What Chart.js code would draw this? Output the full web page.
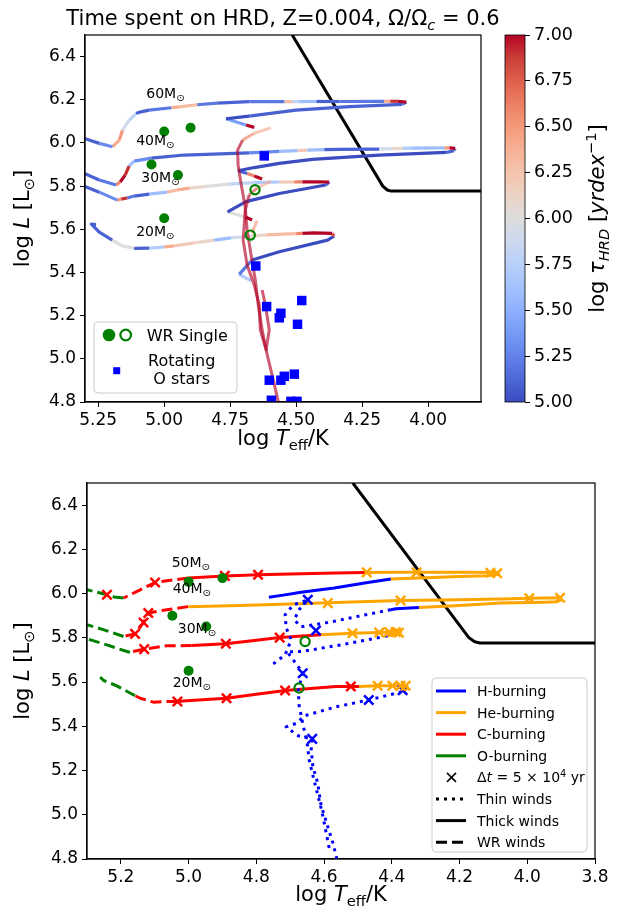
<!DOCTYPE html>
<html lang="en">
<head>
<meta charset="UTF-8">
<title>Time spent on HRD</title>
<style>
  body { margin: 0; background: #fff; }
  #wrap { position: relative; width: 629px; height: 918px; }
  #wrap canvas { position: absolute; left: 0; top: 0; }
</style>
</head>
<body>
<div id="wrap">
  <canvas id="topChart" width="629" height="918"></canvas>
  <canvas id="cbar" width="629" height="918"></canvas>
  <canvas id="botChart" width="629" height="918"></canvas>
</div>
<script src="https://cdn.jsdelivr.net/npm/chart.js"></script>
<script>
const FF = '"DejaVu Sans", sans-serif';
Chart.defaults.font.family = FF;
Chart.defaults.color = '#000';

// ticks
const xTicksTop = [5.25, 5.0, 4.75, 4.5, 4.25, 4.0];
const xTicksBot = [5.2, 5.0, 4.8, 4.6, 4.4, 4.2, 4.0, 3.8];
const yTicks = [4.8, 5.0, 5.2, 5.4, 5.6, 5.8, 6.0, 6.2, 6.4];
const cbTicks = [5.0, 5.25, 5.5, 5.75, 6.0, 6.25, 6.5, 6.75, 7.0];

// top panel tracks: [log Teff, log L, log tau_HRD]
const trk60 = [
  [4.659,6.072,7.0],[4.690,6.083,5.4],[4.766,6.112,5.0],[4.678,6.124,5.1],[4.501,6.152,5.1],
  [4.299,6.168,5.1],[4.098,6.179,5.2],[4.083,6.189,7.0],[4.117,6.193,6.9],[4.144,6.193,6.4],
  [4.167,6.193,5.2],[4.337,6.192,5.1],[4.424,6.192,5.6],[4.489,6.191,5.8],[4.515,6.191,6.3],
  [4.545,6.191,5.2],[4.678,6.191,5.1],[4.799,6.184,5.2],[4.875,6.177,6.3],[4.943,6.167,6.4],
  [4.973,6.163,5.2],[5.057,6.152,5.1],[5.088,6.144,5.1],[5.107,6.136,5.8],[5.133,6.105,5.9],
  [5.158,6.059,6.5],[5.170,6.013,6.4],[5.196,5.982,5.3],[5.246,5.998,5.1],[5.303,6.021,5.1]
];
const trk40 = [
  [4.629,5.833,7.0],[4.659,5.847,6.6],[4.686,5.858,5.1],[4.720,5.871,5.0],[4.659,5.886,5.0],
  [4.564,5.905,5.0],[4.439,5.924,5.0],[4.186,5.944,5.0],[3.932,5.956,5.1],[3.902,5.964,5.2],
  [3.898,5.975,7.0],[3.920,5.977,6.5],[3.939,5.977,5.6],[4.061,5.976,5.7],[4.098,5.975,6.1],
  [4.136,5.974,5.9],[4.186,5.971,5.1],[4.337,5.970,5.1],[4.394,5.969,5.6],[4.458,5.967,6.2],
  [4.496,5.964,5.6],[4.564,5.961,5.3],[4.678,5.954,5.1],[4.924,5.944,5.1],[5.049,5.930,5.3],
  [5.114,5.916,5.6],[5.133,5.893,6.9],[5.148,5.851,7.0],[5.167,5.819,6.6],[5.182,5.805,5.2],
  [5.246,5.828,5.1],[5.303,5.859,5.1]
];
const trk30 = [
  [4.667,5.643,7.0],[4.693,5.657,6.0],[4.760,5.681,5.0],[4.690,5.728,5.0],[4.564,5.766,5.0],
  [4.388,5.805,5.1],[4.375,5.819,7.0],[4.420,5.820,7.0],[4.477,5.820,6.6],[4.508,5.819,6.2],
  [4.564,5.819,5.7],[4.659,5.816,5.8],[4.754,5.809,6.0],[4.848,5.798,6.1],[4.905,5.791,6.4],
  [4.951,5.782,6.3],[4.989,5.772,5.6],[5.057,5.763,5.1],[5.114,5.754,5.2],[5.140,5.745,6.9],
  [5.163,5.740,6.5],[5.178,5.735,5.3],[5.246,5.772,5.1],[5.303,5.800,5.1]
];
const trk20 = [
  [4.670,5.361,5.7],[4.716,5.391,5.2],[4.667,5.458,5.0],[4.564,5.496,5.0],[4.381,5.550,5.0],
  [4.356,5.569,6.8],[4.364,5.581,7.0],[4.432,5.583,7.0],[4.477,5.581,6.6],[4.500,5.580,6.3],
  [4.614,5.574,6.1],[4.678,5.567,5.9],[4.746,5.560,5.6],[4.811,5.550,6.1],[4.886,5.537,6.2],
  [4.962,5.523,6.4],[5.000,5.518,5.7],[5.057,5.513,5.1],[5.114,5.512,6.0],[5.159,5.523,6.0],
  [5.197,5.550,5.1],[5.246,5.587,5.1],[5.276,5.624,5.1],[5.258,5.622,5.1]
];
// faint red tracks
const redA = [
  [4.596,6.070,6.4],[4.659,6.045,6.6],[4.703,6.013,7],[4.722,5.967,7],[4.720,5.897,7],
  [4.708,5.805,7],[4.693,5.703,7],[4.686,5.597,7],[4.671,5.481,7],[4.655,5.366,7],
  [4.644,5.250,7],[4.629,5.134,7],[4.610,5.019,7],[4.587,4.904,7],[4.568,4.802,7]
];
const redB = [
  [4.596,5.823,6.4],[4.648,5.791,6.8],[4.678,5.759,7],[4.693,5.689,7],[4.701,5.550,7],
  [4.686,5.435,7],[4.659,5.342,7],[4.640,5.250,7],[4.636,5.134,7],[4.614,5.042,7],
  [4.602,5.134,7],[4.617,5.250,7],[4.629,5.319,7]
];
const redC = [[4.648,5.640,6.5],[4.660,5.605,6.6],[4.667,5.582,6.8]];

// thick-wind boundary
const bndT = [4.515, 4.172, 4.155, 4.14, 3.8];
const bndL = [6.5, 5.80, 5.782, 5.777, 5.777];

// observed stars
const wrT = [5.0, 4.9, 5.048, 4.948, 5.0];
const wrL = [6.053, 6.070, 5.900, 5.851, 5.651];
const wrOpenT = [4.656, 4.674];
const wrOpenL = [5.783, 5.573];
const ostT = [4.621,4.653,4.612,4.558,4.564,4.479,4.495,4.602,4.558,4.545,4.507,4.594,4.520,4.497];
const ostL = [5.940,5.430,5.242,5.211,5.190,5.270,5.160,4.901,4.901,4.919,4.929,4.808,4.803,4.803];

// mass labels
const massTop = ['60', '40', '30', '20'];
const massTopT = [5.068, 5.106, 5.087, 5.106];
const massTopL = [6.230, 6.013, 5.842, 5.592];
const massBot = ['50', '40', '30', '20'];
const massBotT = [5.050, 5.047, 5.032, 5.047];
const massBotL = [6.144, 6.026, 5.845, 5.601];

// bottom panel: burning phases [log Teff, log L]
const b50H  = [[4.763,5.983],[4.72,5.993],[4.668,6.006],[4.57,6.025],[4.471,6.050],[4.403,6.066]];
const b50He = [[4.403,6.066],[4.30,6.072],[4.20,6.077],[4.12,6.081],[4.09,6.085],[4.085,6.090],[4.09,6.095],[4.15,6.097],[4.30,6.097],[4.40,6.096],[4.476,6.095]];
const b50C  = [[4.476,6.095],[4.565,6.093],[4.70,6.089],[4.795,6.085],[4.893,6.080],[5.001,6.070]];
const b50Cw = [[5.001,6.070],[5.045,6.062],[5.099,6.050],[5.143,6.017],[5.192,5.980]];
const b50Ow = [[5.192,5.980],[5.22,5.985],[5.241,5.995],[5.27,6.006],[5.30,6.017]];

const b40Hd = [[4.750,5.682],[4.715,5.723],[4.697,5.791],[4.712,5.845],[4.715,5.904],[4.691,5.949],[4.648,5.972],[4.674,5.927],[4.688,5.881],[4.668,5.850],[4.579,5.872],[4.491,5.900],[4.403,5.927]];
const b40H  = [[4.403,5.927],[4.388,5.931],[4.320,5.937]];
const b40He = [[4.320,5.937],[4.20,5.946],[4.079,5.957],[3.95,5.961],[3.912,5.963],[3.900,5.972],[3.903,5.981],[3.994,5.979],[4.079,5.975],[4.20,5.972],[4.374,5.969],[4.565,5.960],[4.70,5.953],[4.85,5.946],[5.001,5.941]];
const b40Cw = [[5.001,5.941],[5.065,5.927],[5.119,5.912],[5.133,5.869],[5.158,5.818],[5.192,5.806]];
const b40Ow = [[5.192,5.806],[5.207,5.814],[5.25,5.836],[5.30,5.859]];

const b30Hd = [[4.585,4.850],[4.606,5.013],[4.632,5.171],[4.644,5.248],[4.650,5.325],[4.662,5.406],[4.674,5.497],[4.676,5.565],[4.663,5.642],[4.691,5.700],[4.709,5.737],[4.668,5.738],[4.550,5.768],[4.412,5.809]];
const b30He = [[4.412,5.809],[4.379,5.822],[4.374,5.826],[4.40,5.826],[4.437,5.824],[4.516,5.821],[4.609,5.814]];
const b30C  = [[4.609,5.814],[4.653,5.809],[4.731,5.801],[4.80,5.789],[4.890,5.773],[4.991,5.765]];
const b30Cw = [[4.991,5.765],[5.065,5.764],[5.131,5.749],[5.173,5.735]];
const b30Ow = [[5.173,5.735],[5.182,5.738],[5.241,5.768],[5.300,5.796]];

const b20Hd = [[4.562,4.800],[4.574,4.872],[4.589,4.946],[4.609,5.044],[4.619,5.144],[4.633,5.218],[4.638,5.293],[4.635,5.343],[4.676,5.357],[4.712,5.397],[4.679,5.415],[4.659,5.447],[4.565,5.488],[4.468,5.519],[4.365,5.558]];
const b20He = [[4.365,5.558],[4.354,5.575],[4.359,5.583],[4.398,5.583],[4.442,5.583],[4.497,5.580]];
const b20C  = [[4.497,5.580],[4.565,5.580],[4.715,5.562],[4.80,5.545],[4.888,5.527],[5.006,5.515],[5.033,5.512]];
const b20Cw = [[5.033,5.512],[5.065,5.512],[5.104,5.509],[5.143,5.527],[5.158,5.538]];
const b20Ow = [[5.158,5.538],[5.212,5.583],[5.251,5.607],[5.261,5.622]];

// time markers (every 5e4 yr)
const xmBlue = [[4.648,5.972],[4.624,5.833],[4.663,5.640],[4.635,5.343],[4.468,5.519],[4.368,5.563]];
const xmOrange = [[4.474,6.096],[4.327,6.096],[4.109,6.094],[4.089,6.092],[4.589,5.957],[4.374,5.969],[3.994,5.979],[3.903,5.981],
  [4.516,5.821],[4.437,5.824],[4.408,5.826],[4.388,5.826],[4.379,5.823],[4.442,5.583],[4.398,5.583],[4.374,5.583],[4.359,5.583]];
const xmRed = [[5.241,5.995],[5.099,6.050],[4.893,6.080],[4.795,6.085],[5.119,5.912],[5.133,5.869],[5.158,5.818],
  [5.131,5.749],[4.890,5.773],[4.731,5.801],[5.033,5.512],[4.888,5.527],[4.715,5.562],[4.521,5.580]];

const legendBot = ['H-burning', 'He-burning', 'C-burning', 'O-burning', 'dt', 'Thin winds', 'Thick winds', 'WR winds'];

// colours
const BLUE = '#0000ff', ORANGE = '#ffa500', RED = '#ff0000', GREEN = '#008000';
const DOT = [3, 5], DASH = [11, 5];
const CW = [[59,76,192],[77,104,215],[98,130,234],[119,154,247],[141,176,254],[163,194,255],[184,208,249],
  [204,217,238],[221,221,221],[236,211,197],[245,196,173],[247,177,148],[244,154,123],[236,127,99],
  [222,96,77],[203,62,56],[180,4,38]];
function coolwarm(v, a) {
  let t = Math.max(0, Math.min(1, (v - 5) / 2));
  const f = t * (CW.length - 1), i = Math.min(Math.floor(f), CW.length - 2), r = f - i;
  const c = CW[i].map((c0, k) => Math.round(c0 + (CW[i + 1][k] - c0) * r));
  return 'rgba(' + c[0] + ',' + c[1] + ',' + c[2] + ',' + (a == null ? 1 : a) + ')';
}

// rich text helper (sub/superscripts, italics)
function fontFor(p, size) {
  return (p.i ? 'italic ' : '') + (p.s ? size * 0.7 : size) + 'px ' + FF;
}
function drawRich(ctx, parts, x, y, size, align) {
  ctx.save();
  let w = 0;
  const ws = parts.map(p => { ctx.font = fontFor(p, size); const m = ctx.measureText(p.t).width; w += m; return m; });
  let cx = align === 'center' ? x - w / 2 : align === 'right' ? x - w : x;
  ctx.textAlign = 'left';
  ctx.textBaseline = 'alphabetic';
  ctx.fillStyle = '#000';
  parts.forEach((p, k) => {
    ctx.font = fontFor(p, size);
    const dy = p.s === -1 ? size * 0.22 : p.s === 1 ? -size * 0.4 : 0;
    ctx.fillText(p.t, cx, y + dy);
    cx += ws[k];
  });
  ctx.restore();
}
function drawRotated(ctx, parts, x, y, size) {
  ctx.save();
  ctx.translate(x, y);
  ctx.rotate(-Math.PI / 2);
  drawRich(ctx, parts, 0, 0, size, 'center');
  ctx.restore();
}
function boxPath(ctx, x, y, w, h, r) {
  ctx.beginPath();
  ctx.moveTo(x + r, y);
  ctx.lineTo(x + w - r, y); ctx.arcTo(x + w, y, x + w, y + r, r);
  ctx.lineTo(x + w, y + h - r); ctx.arcTo(x + w, y + h, x + w - r, y + h, r);
  ctx.lineTo(x + r, y + h); ctx.arcTo(x, y + h, x, y + h - r, r);
  ctx.lineTo(x, y + r); ctx.arcTo(x, y, x + r, y, r);
  ctx.closePath();
}
function legendBox(ctx, x, y, w, h) {
  boxPath(ctx, x, y, w, h, 4);
  ctx.fillStyle = 'rgba(255,255,255,0.8)';
  ctx.fill();
  ctx.strokeStyle = '#cccccc';
  ctx.lineWidth = 1;
  ctx.stroke();
}

const X_LABEL = [{t: 'log '}, {t: 'T', i: 1}, {t: 'eff', s: -1}, {t: '/K'}];
const Y_LABEL = [{t: 'log '}, {t: 'L', i: 1}, {t: ' [L'}, {t: '⊙', s: -1}, {t: ']'}];
const LABEL_SIZE = 21;

// dataset builders
function xy(arr) { return arr.map(p => ({x: p[0], y: p[1]})); }
function pts(T, L) { return T.map((t, i) => ({x: t, y: L[i]})); }
function tauTrack(arr, w, a) {
  return {
    data: xy(arr), showLine: true, pointRadius: 0, borderWidth: w, clip: 0,
    borderColor: coolwarm(arr[0][2], a), borderJoinStyle: 'round',
    segment: { borderColor: c => coolwarm(arr[c.p0DataIndex][2], a) }
  };
}
function seg(arr, color, dash) {
  return {
    data: xy(arr), showLine: true, pointRadius: 0, borderWidth: 3, clip: 0,
    borderColor: color, borderDash: dash || [], borderCapStyle: 'butt', borderJoinStyle: 'round'
  };
}
function marks(data, style, r, fill, stroke, bw) {
  return {
    data: data, showLine: false, pointStyle: style, pointRadius: r, clip: 0,
    pointBackgroundColor: fill, pointBorderColor: stroke, pointBorderWidth: bw
  };
}

function xAxis(ticks, dec, h) {
  return {
    type: 'linear', min: 3.8, max: 5.3, reverse: true,
    afterBuildTicks: s => { s.ticks = ticks.map(v => ({value: v})); },
    afterFit: s => { s.height = h; },
    ticks: { callback: v => v.toFixed(dec), font: {size: 17}, color: '#000', maxRotation: 0, autoSkip: false, padding: 3 },
    grid: { display: true, drawOnChartArea: false, drawTicks: true, tickLength: 5, color: '#000', lineWidth: 1 },
    border: { display: true, color: '#000', width: 1.2 }
  };
}
function yAxis(w) {
  return {
    type: 'linear', min: 4.8, max: 6.5,
    afterBuildTicks: s => { s.ticks = yTicks.map(v => ({value: v})); },
    afterFit: s => { s.width = w; },
    ticks: { callback: v => v.toFixed(1), font: {size: 17}, color: '#000', autoSkip: false, padding: 4 },
    grid: { display: true, drawOnChartArea: false, drawTicks: true, tickLength: 5, color: '#000', lineWidth: 1 },
    border: { display: true, color: '#000', width: 1.2 }
  };
}
function baseOptions(pad, xs, ys) {
  return {
    responsive: false, animation: false, devicePixelRatio: 1, events: [],
    layout: { padding: pad, autoPadding: false },
    plugins: { legend: {display: false}, tooltip: {enabled: false}, title: {display: false} },
    scales: { x: xs, y: ys }
  };
}

// ---------- top panel ----------
const topDecor = {
  id: 'topDecor',
  afterDatasetsDraw(chart) {
    const {ctx, chartArea: a, scales: {x, y}} = chart;
    ctx.save();
    ctx.strokeStyle = '#000'; ctx.lineWidth = 1.2;
    ctx.strokeRect(a.left, a.top, a.right - a.left, a.bottom - a.top);
    massTop.forEach((m, i) => drawRich(ctx, [{t: m + 'M'}, {t: '⊙', s: -1}],
      x.getPixelForValue(massTopT[i]), y.getPixelForValue(massTopL[i]) + 5, 14, 'left'));
    // legend
    const bx = a.left + 9, by = a.bottom - 80;
    legendBox(ctx, bx, by, 143, 71);
    ctx.fillStyle = GREEN;
    ctx.beginPath(); ctx.arc(bx + 15, by + 13, 6.3, 0, 2 * Math.PI); ctx.fill();
    ctx.strokeStyle = GREEN; ctx.lineWidth = 2.2;
    ctx.beginPath(); ctx.arc(bx + 31.7, by + 13, 5.3, 0, 2 * Math.PI); ctx.stroke();
    drawRich(ctx, [{t: 'WR Single'}], bx + 52.7, by + 19, 16, 'left');
    ctx.fillStyle = BLUE;
    ctx.fillRect(bx + 19.2, by + 45.2, 7, 7);
    drawRich(ctx, [{t: 'Rotating'}], bx + 87.7, by + 44, 16, 'center');
    drawRich(ctx, [{t: 'O stars'}], bx + 87.7, by + 62.3, 16, 'center');
    ctx.restore();
  },
  afterDraw(chart) {
    const {ctx, chartArea: a} = chart;
    drawRich(ctx, [{t: 'Time spent on HRD, Z=0.004, Ω/Ω'}, {t: 'c', i: 1, s: -1}, {t: ' = 0.6'}],
      (a.left + a.right) / 2, 25, 21, 'center');
    drawRich(ctx, X_LABEL, (a.left + a.right) / 2, a.bottom + 43, LABEL_SIZE, 'center');
    drawRotated(ctx, Y_LABEL, 29, (a.top + a.bottom) / 2, LABEL_SIZE);
  }
};

new Chart(document.getElementById('topChart'), {
  type: 'scatter',
  data: { datasets: [
    marks(pts(wrT, wrL), 'circle', 5, GREEN, GREEN, 0),
    marks(pts(wrOpenT, wrOpenL), 'circle', 4.6, 'rgba(0,0,0,0)', GREEN, 2.2),
    marks(pts(ostT, ostL), 'rect', 6.7, BLUE, BLUE, 0),
    tauTrack(redA, 3, 0.65),
    tauTrack(redB, 3, 0.65),
    tauTrack(redC, 3, 0.65),
    tauTrack(trk60, 3.2, 1),
    tauTrack(trk40, 3.2, 1),
    tauTrack(trk30, 3.2, 1),
    tauTrack(trk20, 3.2, 1),
    seg(bndT.map((t, i) => [t, bndL[i]]), '#000', [])
  ] },
  options: baseOptions({left: 0, right: 148, top: 35, bottom: 476}, xAxis(xTicksTop, 2, 40), yAxis(85)),
  plugins: [topDecor]
});

// ---------- colour bar ----------
const cbDecor = {
  id: 'cbDecor',
  afterDraw(chart) {
    const {ctx, chartArea: a} = chart;
    ctx.save();
    ctx.strokeStyle = '#000'; ctx.lineWidth = 0.8;
    ctx.strokeRect(a.left, a.top, a.right - a.left, a.bottom - a.top);
    ctx.restore();
    drawRotated(ctx, [{t: 'log '}, {t: 'τ', i: 1}, {t: 'HRD', i: 1, s: -1}, {t: ' ['}, {t: 'yrdex', i: 1}, {t: '−1', s: 1}, {t: ']'}],
      a.right + 79, (a.top + a.bottom) / 2, LABEL_SIZE);
  }
};
new Chart(document.getElementById('cbar'), {
  type: 'bar',
  data: { labels: [''], datasets: [{
    data: [[cbTicks[0], cbTicks[cbTicks.length - 1]]],
    barPercentage: 1, categoryPercentage: 1, borderWidth: 0,
    backgroundColor: c => {
      const a = c.chart.chartArea;
      if (!a) return coolwarm(6);
      const g = c.chart.ctx.createLinearGradient(0, a.bottom, 0, a.top);
      CW.forEach((col, i) => g.addColorStop(i / (CW.length - 1), 'rgb(' + col.join(',') + ')'));
      return g;
    }
  }] },
  options: {
    responsive: false, animation: false, devicePixelRatio: 1, events: [],
    layout: { padding: {left: 505, right: 0, top: 35, bottom: 516}, autoPadding: false },
    plugins: { legend: {display: false}, tooltip: {enabled: false} },
    scales: {
      x: { display: false },
      y: {
        position: 'right', min: 5, max: 7,
        afterBuildTicks: s => { s.ticks = cbTicks.map(v => ({value: v})); },
        afterFit: s => { s.width = 104; },
        ticks: { callback: v => v.toFixed(2), font: {size: 17.5}, color: '#000', autoSkip: false, padding: 4 },
        grid: { display: true, drawOnChartArea: false, drawTicks: true, tickLength: 5, color: '#000' },
        border: { display: false }
      }
    }
  },
  plugins: [cbDecor]
});

// ---------- bottom panel ----------
const botDecor = {
  id: 'botDecor',
  afterDatasetsDraw(chart) {
    const {ctx, chartArea: a, scales: {x, y}} = chart;
    ctx.save();
    ctx.strokeStyle = '#000'; ctx.lineWidth = 1.2;
    ctx.strokeRect(a.left, a.top, a.right - a.left, a.bottom - a.top);
    massBot.forEach((m, i) => drawRich(ctx, [{t: m + 'M'}, {t: '⊙', s: -1}],
      x.getPixelForValue(massBotT[i]), y.getPixelForValue(massBotL[i]) + 5, 14, 'left'));
    // legend
    const bx = a.right - 163, by = a.bottom - 181, bw = 155, bh = 174;
    legendBox(ctx, bx, by, bw, bh);
    const styles = [[BLUE, []], [ORANGE, []], [RED, []], [GREEN, []], null, ['#000', DOT], ['#000', []], ['#000', DASH]];
    legendBot.forEach((lab, i) => {
      const ry = by + 13 + i * 21.6;
      const st = styles[i];
      if (st) {
        ctx.strokeStyle = st[0]; ctx.lineWidth = 3; ctx.setLineDash(st[1]); ctx.lineCap = 'butt';
        ctx.beginPath(); ctx.moveTo(bx + 4, ry); ctx.lineTo(bx + 34, ry); ctx.stroke();
        ctx.setLineDash([]);
        drawRich(ctx, [{t: lab}], bx + 45, ry + 5, 14, 'left');
      } else {
        ctx.strokeStyle = '#000'; ctx.lineWidth = 1.5;
        ctx.beginPath();
        ctx.moveTo(bx + 15, ry - 4.5); ctx.lineTo(bx + 24, ry + 4.5);
        ctx.moveTo(bx + 24, ry - 4.5); ctx.lineTo(bx + 15, ry + 4.5);
        ctx.stroke();
        drawRich(ctx, [{t: 'Δ'}, {t: 't', i: 1}, {t: ' = 5 × 10'}, {t: '4', s: 1}, {t: ' yr'}], bx + 45, ry + 5, 14, 'left');
      }
    });
    ctx.restore();
  },
  afterDraw(chart) {
    const {ctx, chartArea: a} = chart;
    drawRich(ctx, X_LABEL, (a.left + a.right) / 2, a.bottom + 42, LABEL_SIZE, 'center');
    drawRotated(ctx, Y_LABEL, 29, (a.top + a.bottom) / 2, LABEL_SIZE);
  }
};

new Chart(document.getElementById('botChart'), {
  type: 'scatter',
  data: { datasets: [
    marks(pts(wrT, wrL), 'circle', 5, GREEN, GREEN, 0),
    marks(pts(wrOpenT, wrOpenL), 'circle', 4.6, 'rgba(0,0,0,0)', GREEN, 2.2),
    marks(xy(xmRed), 'crossRot', 6.6, RED, RED, 2.5),
    marks(xy(xmOrange), 'crossRot', 6.6, ORANGE, ORANGE, 2.5),
    marks(xy(xmBlue), 'crossRot', 6.6, BLUE, BLUE, 2.5),
    seg(b50H, BLUE), seg(b50He, ORANGE), seg(b50C, RED), seg(b50Cw, RED, DASH), seg(b50Ow, GREEN, DASH),
    seg(b40Hd, BLUE, DOT), seg(b40H, BLUE), seg(b40He, ORANGE), seg(b40Cw, RED, DASH), seg(b40Ow, GREEN, DASH),
    seg(b30Hd, BLUE, DOT), seg(b30He, ORANGE), seg(b30C, RED), seg(b30Cw, RED, DASH), seg(b30Ow, GREEN, DASH),
    seg(b20Hd, BLUE, DOT), seg(b20He, ORANGE), seg(b20C, RED), seg(b20Cw, RED, DASH), seg(b20Ow, GREEN, DASH),
    seg(bndT.map((t, i) => [t, bndL[i]]), '#000', [])
  ] },
  options: baseOptions({left: 0, right: 34, top: 483, bottom: 19}, xAxis(xTicksBot, 1, 40), yAxis(87)),
  plugins: [botDecor]
});
</script>
</body>
</html>
